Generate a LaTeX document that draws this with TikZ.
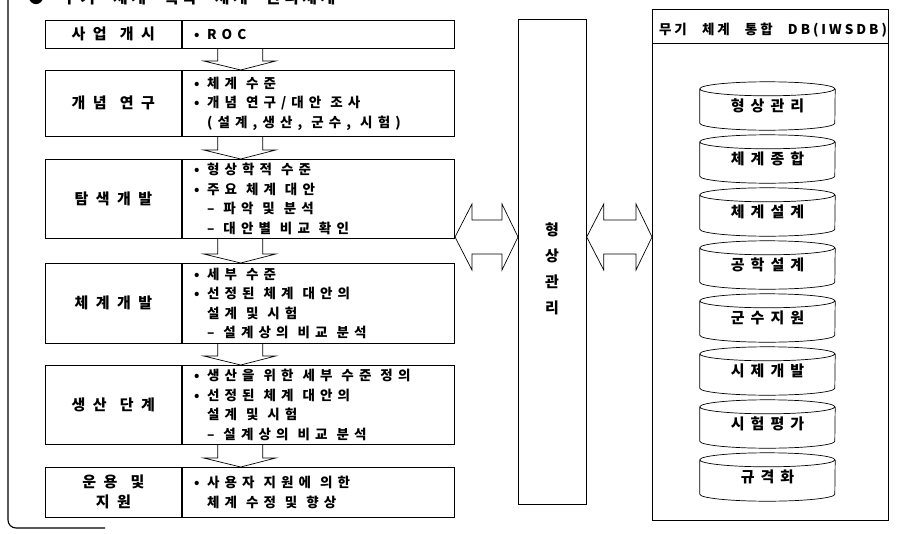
\documentclass[tikz,border=0pt]{standalone}
\usepackage{fontspec}
\setmainfont{Noto Sans CJK KR}
\newfontfamily\krwide[LetterSpace=50, WordSpace=1.2]{Noto Sans CJK KR}
\newfontfamily\krdrum[LetterSpace=40]{Noto Sans CJK KR}
\newfontfamily\krmid[LetterSpace=38]{Noto Sans CJK KR}
\newfontfamily\krhead[LetterSpace=22, WordSpace=2.5]{Noto Sans CJK KR}
\usetikzlibrary{calc}

\newcommand{\bul}{\makebox[13pt][l]{•}}
\newcommand{\subind}{\hspace*{13pt}}

% hollow arrow between two stage boxes
\newcommand{\flowarrow}[2]{%
  \draw[blockarrow] let \p1=(#1.south west), \p2=(#2.north west) in
    (\x1+36pt,\y1) -- (\x1+36pt,\y2+9pt) -- (\x1+22pt,\y2+9pt) -- (\x1+59pt,\y2)
    -- (\x1+94pt,\y2+9pt) -- (\x1+81pt,\y2+9pt) -- (\x1+81pt,\y1);
}
% hollow double arrow
\newcommand{\bothway}[2]{%
  \draw[blockarrow] let \p1=(#1), \p2=(#2) in
    (\x1,\y1) -- (\x1+17pt,\y1+33pt) -- (\x1+17pt,\y1+17pt) -- (\x2-16pt,\y1+17pt)
    -- (\x2-16pt,\y1+33pt) -- (\x2,\y1) -- (\x2-16pt,\y1-33pt) -- (\x2-16pt,\y1-17pt)
    -- (\x1+17pt,\y1-17pt) -- (\x1+17pt,\y1-33pt) -- cycle;
}
% database drum round a node
\newcommand{\drum}[1]{%
  \draw[blockarrow] let \p1=(#1.north west), \p2=(#1.south east) in
    (\x1,\y1-7pt) -- (\x1,\y2+7pt) arc[start angle=180, end angle=360, x radius=67.5pt, y radius=7pt] -- (\x2,\y1-7pt)
    (\x1+67.5pt,\y1-7pt) ellipse[x radius=67.5pt, y radius=7pt];
}

\tikzset{
  stagebox/.style={draw, line width=0.7pt, anchor=north west, minimum width=136pt, inner sep=1pt,
    align=center, font=\krwide\bfseries\fontsize{15}{20}\selectfont},
  descbox/.style={draw, line width=0.7pt, anchor=north west, text width=248pt, inner xsep=12pt,
    inner ysep=1pt, align=left, font=\krmid\bfseries\fontsize{13.5}{19.5}\selectfont,
    execute at begin node={\spaceskip=9pt plus 2pt\relax}},
  blockarrow/.style={line width=0.7pt, line join=miter},
  drumtext/.style={minimum width=135pt, minimum height=48pt, inner sep=0pt,
    font=\krdrum\bfseries\fontsize{15}{16}\selectfont}
}

\begin{document}
\begin{tikzpicture}[x=1pt, y=-1pt]
    \useasboundingbox (0,0) rectangle (918,533);

    % title, cut at the top edge
    \begin{scope}
        \clip (0,0) rectangle (918,533);
        \node[anchor=base west, inner sep=0pt, font=\krhead\bfseries\fontsize{16}{18}\selectfont] (ttl) at (28,3) {● 무기 체계 획득 체계 관리체계};
    \end{scope}
    \draw[line width=1.1pt, rounded corners=8pt] (8,0) -- (8,528) -- (105,528);

    % Stages
    \node[stagebox, minimum height=28pt] (init) at (45,20) {사업 개시};
    \node[descbox, minimum height=28pt] (initd) at (init.north east) {\bul ROC};

    \node[stagebox, minimum height=66pt] (concept) at (45,70) {개념 연구};
    \node[descbox, minimum height=66pt] (conceptd) at (concept.north east)
        {\bul 체계 수준\\ \bul 개념 연구/대안 조사\\ \subind(설계,생산, 군수, 시험)};

    \node[stagebox, minimum height=79pt] (explore) at (45,159) {탐색개발};
    \node[descbox, minimum height=79pt] (explored) at (explore.north east)
        {\bul 형상학적 수준\\ \bul 주요 체계 대안\\ \subind– 파악 및 분석\\ \subind– 대안별 비교 확인};

    \node[stagebox, minimum height=80pt] (sysdev) at (45,263) {체계개발};
    \node[descbox, minimum height=80pt] (sysdevd) at (sysdev.north east)
        {\bul 세부 수준\\ \bul 선정된 체계 대안의\\ \subind 설계 및 시험\\ \subind– 설계상의 비교 분석};

    \node[stagebox, minimum height=79pt] (prod) at (45,365) {생산 단계};
    \node[descbox, minimum height=79pt] (prodd) at (prod.north east)
        {\bul 생산을 위한 세부 수준 정의\\ \bul 선정된 체계 대안의\\ \subind 설계 및 시험\\ \subind– 설계상의 비교 분석};

    \node[stagebox, minimum height=50pt] (ops) at (45,467) {운용 및\\지원};
    \node[descbox, minimum height=50pt] (opsd) at (ops.north east)
        {\bul 사용자 지원에 의한\\ \subind 체계 수정 및 향상};

    \flowarrow{initd}{conceptd}
    \flowarrow{conceptd}{explored}
    \flowarrow{explored}{sysdevd}
    \flowarrow{sysdevd}{prodd}
    \flowarrow{prodd}{opsd}

    % Configuration management column
    \node[draw, line width=0.7pt, anchor=north west, minimum width=68pt, minimum height=485pt] (cm) at (518,19) {};
    \node[align=center, font=\bfseries\fontsize{15}{26}\selectfont] (cmlbl) at (552,269) {형\\상\\관\\리};

    % Integrated DB
    \node[draw, line width=0.7pt, anchor=north west, minimum width=236pt, minimum height=511pt] (db) at (652,9) {};
    \coordinate (dbsep) at (0,43);
    \draw[line width=0.7pt] (db.west |- dbsep) -- (db.east |- dbsep);
    \node[font=\krhead\bfseries\fontsize{13.5}{16}\selectfont] (dbttl) at (773,30) {무기 체계 통합 DB(IWSDB)};

    \node[drumtext] (cfg) at (767.5,106) {형상관리};
    \node[drumtext] (sysint) at (767.5,159) {체계종합};
    \node[drumtext] (sysdes) at (767.5,212) {체계설계};
    \node[drumtext] (engdes) at (767.5,265) {공학설계};
    \node[drumtext] (logsup) at (767.5,318) {군수지원};
    \node[drumtext] (proto) at (767.5,371) {시제개발};
    \node[drumtext] (testev) at (767.5,424) {시험평가};
    \node[drumtext] (stdz) at (767.5,477) {규격화};
    \drum{cfg} \drum{sysint} \drum{sysdes} \drum{engdes}
    \drum{logsup} \drum{proto} \drum{testev} \drum{stdz}

    % two-way links
    \coordinate (la) at (455,237);
    \bothway{la}{cm.west |- la}
    \bothway{cm.east |- la}{db.west |- la}
\end{tikzpicture}
\end{document}
